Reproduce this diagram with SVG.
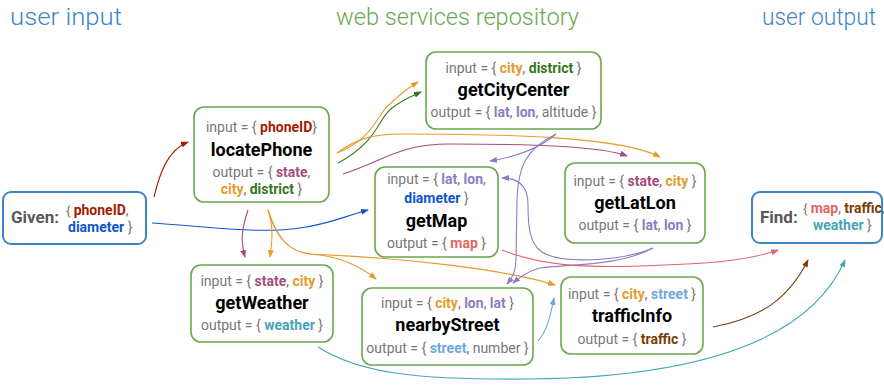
<svg xmlns="http://www.w3.org/2000/svg" width="884" height="385" viewBox="0 0 884 385">
<style>
.hdr{font-family:Roboto,"Liberation Sans",sans-serif;font-size:24px;font-weight:300}
.node{fill:#fff;stroke:#6aa84f;stroke-width:1.6}
.io{fill:#fff;stroke:#3d85c6;stroke-width:2}
.t{font-family:Roboto,"Liberation Sans",sans-serif;font-size:14px;fill:#777;text-anchor:middle}
.ts{font-family:Roboto,"Liberation Sans",sans-serif;font-size:14px;fill:#777}
.ti{font-family:Roboto,"Liberation Sans",sans-serif;font-size:18px;font-weight:bold;fill:#000;text-anchor:middle}
.lab{font-family:Roboto,"Liberation Sans",sans-serif;font-size:17px;font-weight:bold;fill:#595959}
.b{font-weight:bold}
.phone{fill:#a61c00}.state{fill:#a64d79}.city{fill:#e69b2b}.dist{fill:#38761d}
.ll{fill:#8e7cc3}.diam{fill:#1155cc}.map{fill:#e06666}.wea{fill:#46a5b8}
.str{fill:#6fa8dc}.traf{fill:#783f04}
.c{fill:none;stroke-width:1.1}
</style>
<defs>
<marker id="mDr" markerWidth="8" markerHeight="6" refX="7" refY="3" orient="auto" markerUnits="userSpaceOnUse"><path d="M0,0 L8,3 L0,6 z" fill="#a61c00"/></marker>
<marker id="mBl" markerWidth="8" markerHeight="6" refX="7" refY="3" orient="auto" markerUnits="userSpaceOnUse"><path d="M0,0 L8,3 L0,6 z" fill="#1155cc"/></marker>
<marker id="mOr" markerWidth="8" markerHeight="6" refX="7" refY="3" orient="auto" markerUnits="userSpaceOnUse"><path d="M0,0 L8,3 L0,6 z" fill="#e69b2b"/></marker>
<marker id="mDg" markerWidth="8" markerHeight="6" refX="7" refY="3" orient="auto" markerUnits="userSpaceOnUse"><path d="M0,0 L8,3 L0,6 z" fill="#38761d"/></marker>
<marker id="mMg" markerWidth="8" markerHeight="6" refX="7" refY="3" orient="auto" markerUnits="userSpaceOnUse"><path d="M0,0 L8,3 L0,6 z" fill="#a64d79"/></marker>
<marker id="mLv" markerWidth="8" markerHeight="6" refX="7" refY="3" orient="auto" markerUnits="userSpaceOnUse"><path d="M0,0 L8,3 L0,6 z" fill="#8e7cc3"/></marker>
<marker id="mRd" markerWidth="8" markerHeight="6" refX="7" refY="3" orient="auto" markerUnits="userSpaceOnUse"><path d="M0,0 L8,3 L0,6 z" fill="#e06666"/></marker>
<marker id="mLb" markerWidth="8" markerHeight="6" refX="7" refY="3" orient="auto" markerUnits="userSpaceOnUse"><path d="M0,0 L8,3 L0,6 z" fill="#6fa8dc"/></marker>
<marker id="mBr" markerWidth="8" markerHeight="6" refX="7" refY="3" orient="auto" markerUnits="userSpaceOnUse"><path d="M0,0 L8,3 L0,6 z" fill="#783f04"/></marker>
<marker id="mTl" markerWidth="8" markerHeight="6" refX="7" refY="3" orient="auto" markerUnits="userSpaceOnUse"><path d="M0,0 L8,3 L0,6 z" fill="#46a5b8"/></marker>
</defs>

<g id="headers">
<text class="hdr" x="10" y="25" fill="#3d85c6" textLength="112" lengthAdjust="spacingAndGlyphs">user input</text>
<text class="hdr" x="336" y="25" fill="#6aa84f" textLength="243" lengthAdjust="spacingAndGlyphs">web services repository</text>
<text class="hdr" x="762" y="25" fill="#3d85c6" textLength="114" lengthAdjust="spacingAndGlyphs">user output</text>
</g>

<g id="connectors">
<path class="c" stroke="#a61c00" marker-end="url(#mDr)" d="M154,197 C160,172 168,150 188,142"/>
<path class="c" stroke="#1155cc" marker-end="url(#mBl)" d="M152,223 C210,227 260,234 300,228 C330,224 345,216 368,210"/>
<path class="c" stroke="#e69b2b" marker-end="url(#mOr)" d="M337,153 C375,138 378,112 390,104 C398,96 408,88 418,82"/>
<path class="c" stroke="#38761d" marker-end="url(#mDg)" d="M338,163 C378,142 378,118 392,108 C402,100 412,96 421,92"/>
<path class="c" stroke="#e69b2b" marker-end="url(#mOr)" d="M337,153 C355,140 370,134 400,134 C500,134 620,136 660,157"/>
<path class="c" stroke="#a64d79" marker-end="url(#mMg)" d="M343,174 C385,160 400,144 450,144 C530,144 600,146 627,156"/>
<path class="c" stroke="#a64d79" marker-end="url(#mMg)" d="M248,210 C242,228 240,240 245,257"/>
<path class="c" stroke="#e69b2b" marker-end="url(#mOr)" d="M268,210 C274,228 272,242 270,257"/>
<path class="c" stroke="#e69b2b" marker-end="url(#mOr)" d="M268,210 C276,236 288,252 310,254 C340,256 360,266 376,279"/>
<path class="c" stroke="#e69b2b" marker-end="url(#mOr)" d="M268,210 C276,236 288,252 310,254 C400,258 500,268 555,285"/>
<path class="c" stroke="#8e7cc3" marker-end="url(#mLv)" d="M556,134 C540,148 520,156 490,161"/>
<path class="c" stroke="#8e7cc3" marker-end="url(#mLv)" d="M556,134 C528,148 518,164 517,200 L516,258 C516,272 512,278 507,284"/>
<path class="c" stroke="#8e7cc3" marker-end="url(#mLv)" d="M653,248 C620,262 560,264 542,252 C530,244 528,228 528,205 C528,186 518,178 502,178"/>
<path class="c" stroke="#8e7cc3" marker-end="url(#mLv)" d="M653,248 C620,266 570,264 540,268 C528,271 520,277 513,283"/>
<path class="c" stroke="#e06666" marker-end="url(#mRd)" d="M502,250 C540,265 580,268 640,266 C700,264 745,262 778,250"/>
<path class="c" stroke="#6fa8dc" marker-end="url(#mLb)" d="M538,341 C548,330 551,312 554,298"/>
<path class="c" stroke="#783f04" marker-end="url(#mBr)" d="M713,327 C760,318 788,300 808,260"/>
<path class="c" stroke="#46a5b8" marker-end="url(#mTl)" d="M318,347 C360,374 420,380 530,379 C700,377 810,340 845,260"/>
</g>

<g id="given">
<rect class="io" x="3" y="192" width="143" height="52" rx="8"/>
<text class="lab" x="11" y="223">Given:</text>
<text class="ts" x="66" y="215"><tspan font-size="13">{ </tspan><tspan class="b phone">phoneID</tspan>,</text>
<text class="ts" x="68" y="232"><tspan class="b diam">diameter</tspan> }</text>
</g>

<g id="locatePhone">
<rect class="node" x="194" y="107" width="135" height="95" rx="10"/>
<text class="t" x="261.5" y="132">input = { <tspan class="b phone">phoneID</tspan>}</text>
<text class="ti" x="261.5" y="156">locatePhone</text>
<text class="t" x="261.5" y="177">output = { <tspan class="b state">state</tspan>,</text>
<text class="t" x="261.5" y="194"><tspan class="b city">city</tspan>, <tspan class="b dist">district</tspan> }</text>
</g>

<g id="getCityCenter">
<rect class="node" x="426" y="52" width="175" height="77" rx="10"/>
<text class="t" x="513.5" y="73">input = { <tspan class="b city">city</tspan>, <tspan class="b dist">district</tspan> }</text>
<text class="ti" x="513.5" y="96">getCityCenter</text>
<text class="t" x="513.5" y="117">output = { <tspan class="b ll">lat</tspan>, <tspan class="b ll">lon</tspan>, altitude }</text>
</g>

<g id="getMap">
<rect class="node" x="375" y="167" width="123" height="90" rx="10"/>
<text class="t" x="436.5" y="184">input = { <tspan class="b ll">lat</tspan>, <tspan class="b ll">lon</tspan>,</text>
<text class="t" x="436.5" y="203"><tspan class="b diam">diameter</tspan> }</text>
<text class="ti" x="436.5" y="227">getMap</text>
<text class="t" x="436.5" y="248">output = { <tspan class="b map">map</tspan> }</text>
</g>

<g id="getLatLon">
<rect class="node" x="565" y="163" width="140" height="80" rx="10"/>
<text class="t" x="635" y="186">input = { <tspan class="b state">state</tspan>, <tspan class="b city">city</tspan> }</text>
<text class="ti" x="635" y="209">getLatLon</text>
<text class="t" x="635" y="230">output = { <tspan class="b ll">lat</tspan>, <tspan class="b ll">lon</tspan> }</text>
</g>

<g id="getWeather">
<rect class="node" x="191" y="265" width="142" height="77" rx="10"/>
<text class="t" x="262" y="286">input = { <tspan class="b state">state</tspan>, <tspan class="b city">city</tspan> }</text>
<text class="ti" x="262" y="309">getWeather</text>
<text class="t" x="262" y="330">output = { <tspan class="b wea">weather</tspan> }</text>
</g>

<g id="nearbyStreet">
<rect class="node" x="362" y="288" width="171" height="77" rx="10"/>
<text class="t" x="447.5" y="308">input = { <tspan class="b city">city</tspan>, <tspan class="b ll">lon</tspan>, <tspan class="b ll">lat</tspan> }</text>
<text class="ti" x="447.5" y="331">nearbyStreet</text>
<text class="t" x="447.5" y="353">output = { <tspan class="b str">street</tspan>, number }</text>
</g>

<g id="trafficInfo">
<rect class="node" x="561" y="277" width="142" height="77" rx="10"/>
<text class="t" x="632" y="299">input = { <tspan class="b city">city</tspan>, <tspan class="b str">street</tspan> }</text>
<text class="ti" x="632" y="322">trafficInfo</text>
<text class="t" x="632" y="344">output = { <tspan class="b traf">traffic</tspan> }</text>
</g>

<g id="find">
<rect class="io" x="752" y="192" width="130" height="51" rx="8"/>
<text class="lab" x="760" y="223">Find:</text>
<text class="ts" x="803" y="213"><tspan font-size="13">{ </tspan><tspan class="b map">map</tspan>, <tspan class="b traf">traffic</tspan>,</text>
<text class="ts" x="813" y="230"><tspan class="b wea">weather</tspan> }</text>
</g>
</svg>
